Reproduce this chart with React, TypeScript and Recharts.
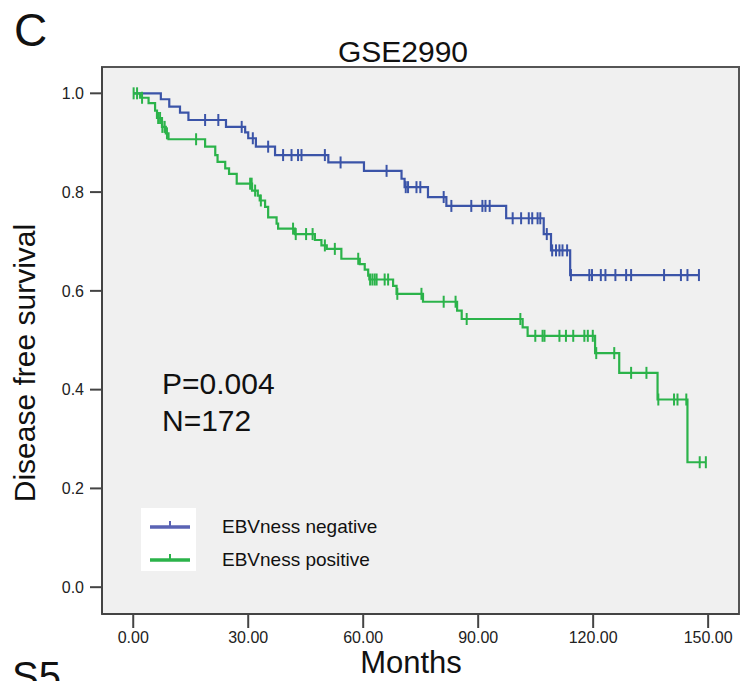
import { LineChart, Line, XAxis, YAxis, ReferenceArea } from "recharts";

const FONT = "'Liberation Sans', Arial, sans-serif";

const xTicks = [0, 30, 60, 90, 120, 150];
const yTicks = [0, 0.2, 0.4, 0.6, 0.8, 1.0];

// [months, survival after the event]
const negativeSteps: [number, number][] = [
  [0, 1.0], [7.2, 0.988], [9.4, 0.973], [12.2, 0.961], [14.4, 0.946],
  [24.2, 0.932], [29.2, 0.921], [30.0, 0.909], [32.0, 0.892], [37.0, 0.875],
  [50.9, 0.86], [60.2, 0.843], [70.0, 0.827], [70.8, 0.81], [76.9, 0.79],
  [81.7, 0.772], [97.3, 0.747], [107.1, 0.715], [109.0, 0.682], [114.0, 0.632],
];
const negativeCensored = [
  18.75, 22.2, 28.3, 31.2, 35.2, 39.1, 41.3, 43.0, 43.9, 50.0, 54.1, 66.1,
  71.1, 71.7, 73.9, 74.9, 81.0, 83.0, 88.2, 91.1, 91.9, 93.0, 99.0, 101.2,
  103.2, 104.1, 105.5, 106.2, 107.9, 109.3, 110.3, 111.2, 112.0, 113.2,
  114.2, 119.0, 119.7, 122.0, 123.2, 125.8, 128.6, 129.9, 138.5, 142.9,
  144.6, 147.6,
];

const positiveSteps: [number, number][] = [
  [0, 1.0], [1.8, 0.991], [4.0, 0.98], [5.7, 0.965], [6.2, 0.95],
  [7.5, 0.932], [8.5, 0.919], [9.2, 0.907], [18.75, 0.892], [21.4, 0.875],
  [22.0, 0.861], [24.0, 0.848], [25.0, 0.837], [27.0, 0.817], [31.0, 0.803],
  [32.5, 0.793], [33.0, 0.783], [34.4, 0.77], [35.2, 0.749], [37.4, 0.736],
  [37.8, 0.726], [42.2, 0.715], [47.4, 0.703], [49.1, 0.692], [50.5, 0.685],
  [54.3, 0.665], [59.1, 0.654], [60.4, 0.643], [61.3, 0.631], [61.6, 0.623],
  [67.8, 0.61], [68.7, 0.594], [75.6, 0.578], [84.5, 0.56], [85.7, 0.543],
  [101.6, 0.526], [102.9, 0.509], [120.5, 0.474], [126.8, 0.434],
  [136.8, 0.38], [144.6, 0.253],
];
const positiveCensored = [
  0.1, 1.0, 2.3, 6.5, 7.0, 7.6, 8.2, 8.8, 16.4, 30.5, 30.9, 31.8, 33.3,
  41.7, 42.4, 45.1, 46.8, 50.0, 52.6, 58.7, 61.8, 62.4, 63.0, 63.5, 65.6,
  66.5, 68.9, 75.2, 81.0, 84.1, 87.0, 101.0, 104.9, 106.8, 107.3, 111.2,
  112.9, 114.8, 117.7, 118.6, 119.9, 120.8, 125.5, 129.9, 133.9, 137.0,
  141.1, 142.0, 144.3, 147.8, 149.4,
];

const BLUE = "#3b54a8";
const GREEN = "#2bb34a";

type Pt = { t: number; s: number; c: boolean };

function survivalAt(steps: [number, number][], t: number) {
  let s = steps[0][1];
  for (const [time, value] of steps) {
    if (time <= t) s = value;
  }
  return s;
}

function buildCurve(steps: [number, number][], censored: number[]): Pt[] {
  const pts: Pt[] = steps.map(([t, s]) => ({ t, s, c: false }));
  censored.forEach((t) => pts.push({ t, s: survivalAt(steps, t), c: true }));
  return pts.sort((a, b) => a.t - b.t);
}

const negativeCurve = buildCurve(negativeSteps, negativeCensored);
const positiveCurve = buildCurve(positiveSteps, positiveCensored);

const censorMark = (color: string) => (props: any) => {
  const { cx, cy, payload, index } = props;
  if (!payload || !payload.c) return <g key={`n-${index}`} />;
  return (
    <line
      key={`c-${index}`}
      x1={cx}
      x2={cx}
      y1={cy - 6}
      y2={cy + 6}
      stroke={color}
      strokeWidth={2}
    />
  );
};

export default function App() {
  return (
    <div style={{ position: "absolute", left: 0, top: 0, width: 740, height: 681, background: "#fff" }}>
      <LineChart width={740} height={681} margin={{ top: 67, right: 1, left: 0, bottom: 27 }}>
        <ReferenceArea
          x1={-8.15}
          x2={158.05}
          y1={-0.0543}
          y2={1.0533}
          fill="#f0f0f0"
          fillOpacity={1}
          stroke="#555"
          strokeWidth={2}
        />
        <XAxis
          type="number"
          dataKey="t"
          domain={[-8.15, 158.05]}
          ticks={xTicks}
          allowDataOverflow
          height={40}
          tickSize={14}
          tickMargin={4}
          tickFormatter={(v: number) => v.toFixed(2)}
          tick={{ fontSize: 16, fill: "#222", fontFamily: FONT }}
          axisLine={{ stroke: "#444", strokeWidth: 2 }}
          tickLine={{ stroke: "#444", strokeWidth: 2 }}
        />
        <YAxis
          type="number"
          dataKey="s"
          domain={[-0.0543, 1.0533]}
          ticks={yTicks}
          allowDataOverflow
          width={102}
          tickSize={12}
          tickMargin={6}
          tickFormatter={(v: number) => v.toFixed(1)}
          tick={{ fontSize: 16, fill: "#222", fontFamily: FONT }}
          axisLine={{ stroke: "#444", strokeWidth: 2 }}
          tickLine={{ stroke: "#444", strokeWidth: 2 }}
        />
        <Line
          data={negativeCurve}
          dataKey="s"
          type="stepAfter"
          stroke={BLUE}
          strokeWidth={2.2}
          dot={censorMark(BLUE)}
          activeDot={false}
          isAnimationActive={false}
          legendType="none"
        />
        <Line
          data={positiveCurve}
          dataKey="s"
          type="stepAfter"
          stroke={GREEN}
          strokeWidth={2.2}
          dot={censorMark(GREEN)}
          activeDot={false}
          isAnimationActive={false}
          legendType="none"
        />
      </LineChart>
      <svg
        width={740}
        height={681}
        style={{ position: "absolute", left: 0, top: 0, pointerEvents: "none" }}
        fontFamily={FONT}
      >
        <text x={14} y={46} fontSize={46} fill="#111">C</text>
        <text x={403} y={62} fontSize={30} textAnchor="middle" fill="#111">GSE2990</text>
        <text
          x={35}
          y={363}
          fontSize={30}
          textAnchor="middle"
          fill="#111"
          transform="rotate(-90, 35, 363)"
        >
          Disease free survival
        </text>
        <text x={411} y={673} fontSize={31} textAnchor="middle" fill="#111">Months</text>
        <text x={12} y={690} fontSize={40} fill="#111">S5</text>
        <text x={162} y={394} fontSize={30} fill="#111">P=0.004</text>
        <text x={162} y={431} fontSize={30} fill="#111">N=172</text>
        <rect x={141} y={508} width={55} height={63} fill="#fff" />
        <line x1={150} x2={190} y1={527} y2={527} stroke="#5a63b4" strokeWidth={3.5} />
        <line x1={170} x2={170} y1={521} y2={527} stroke="#5a63b4" strokeWidth={2} />
        <line x1={150} x2={190} y1={560} y2={560} stroke={GREEN} strokeWidth={3.5} />
        <line x1={170} x2={170} y1={554} y2={560} stroke={GREEN} strokeWidth={2} />
        <text x={222} y={533} fontSize={19} fill="#111">EBVness negative</text>
        <text x={222} y={566} fontSize={19} fill="#111">EBVness positive</text>
      </svg>
    </div>
  );
}
